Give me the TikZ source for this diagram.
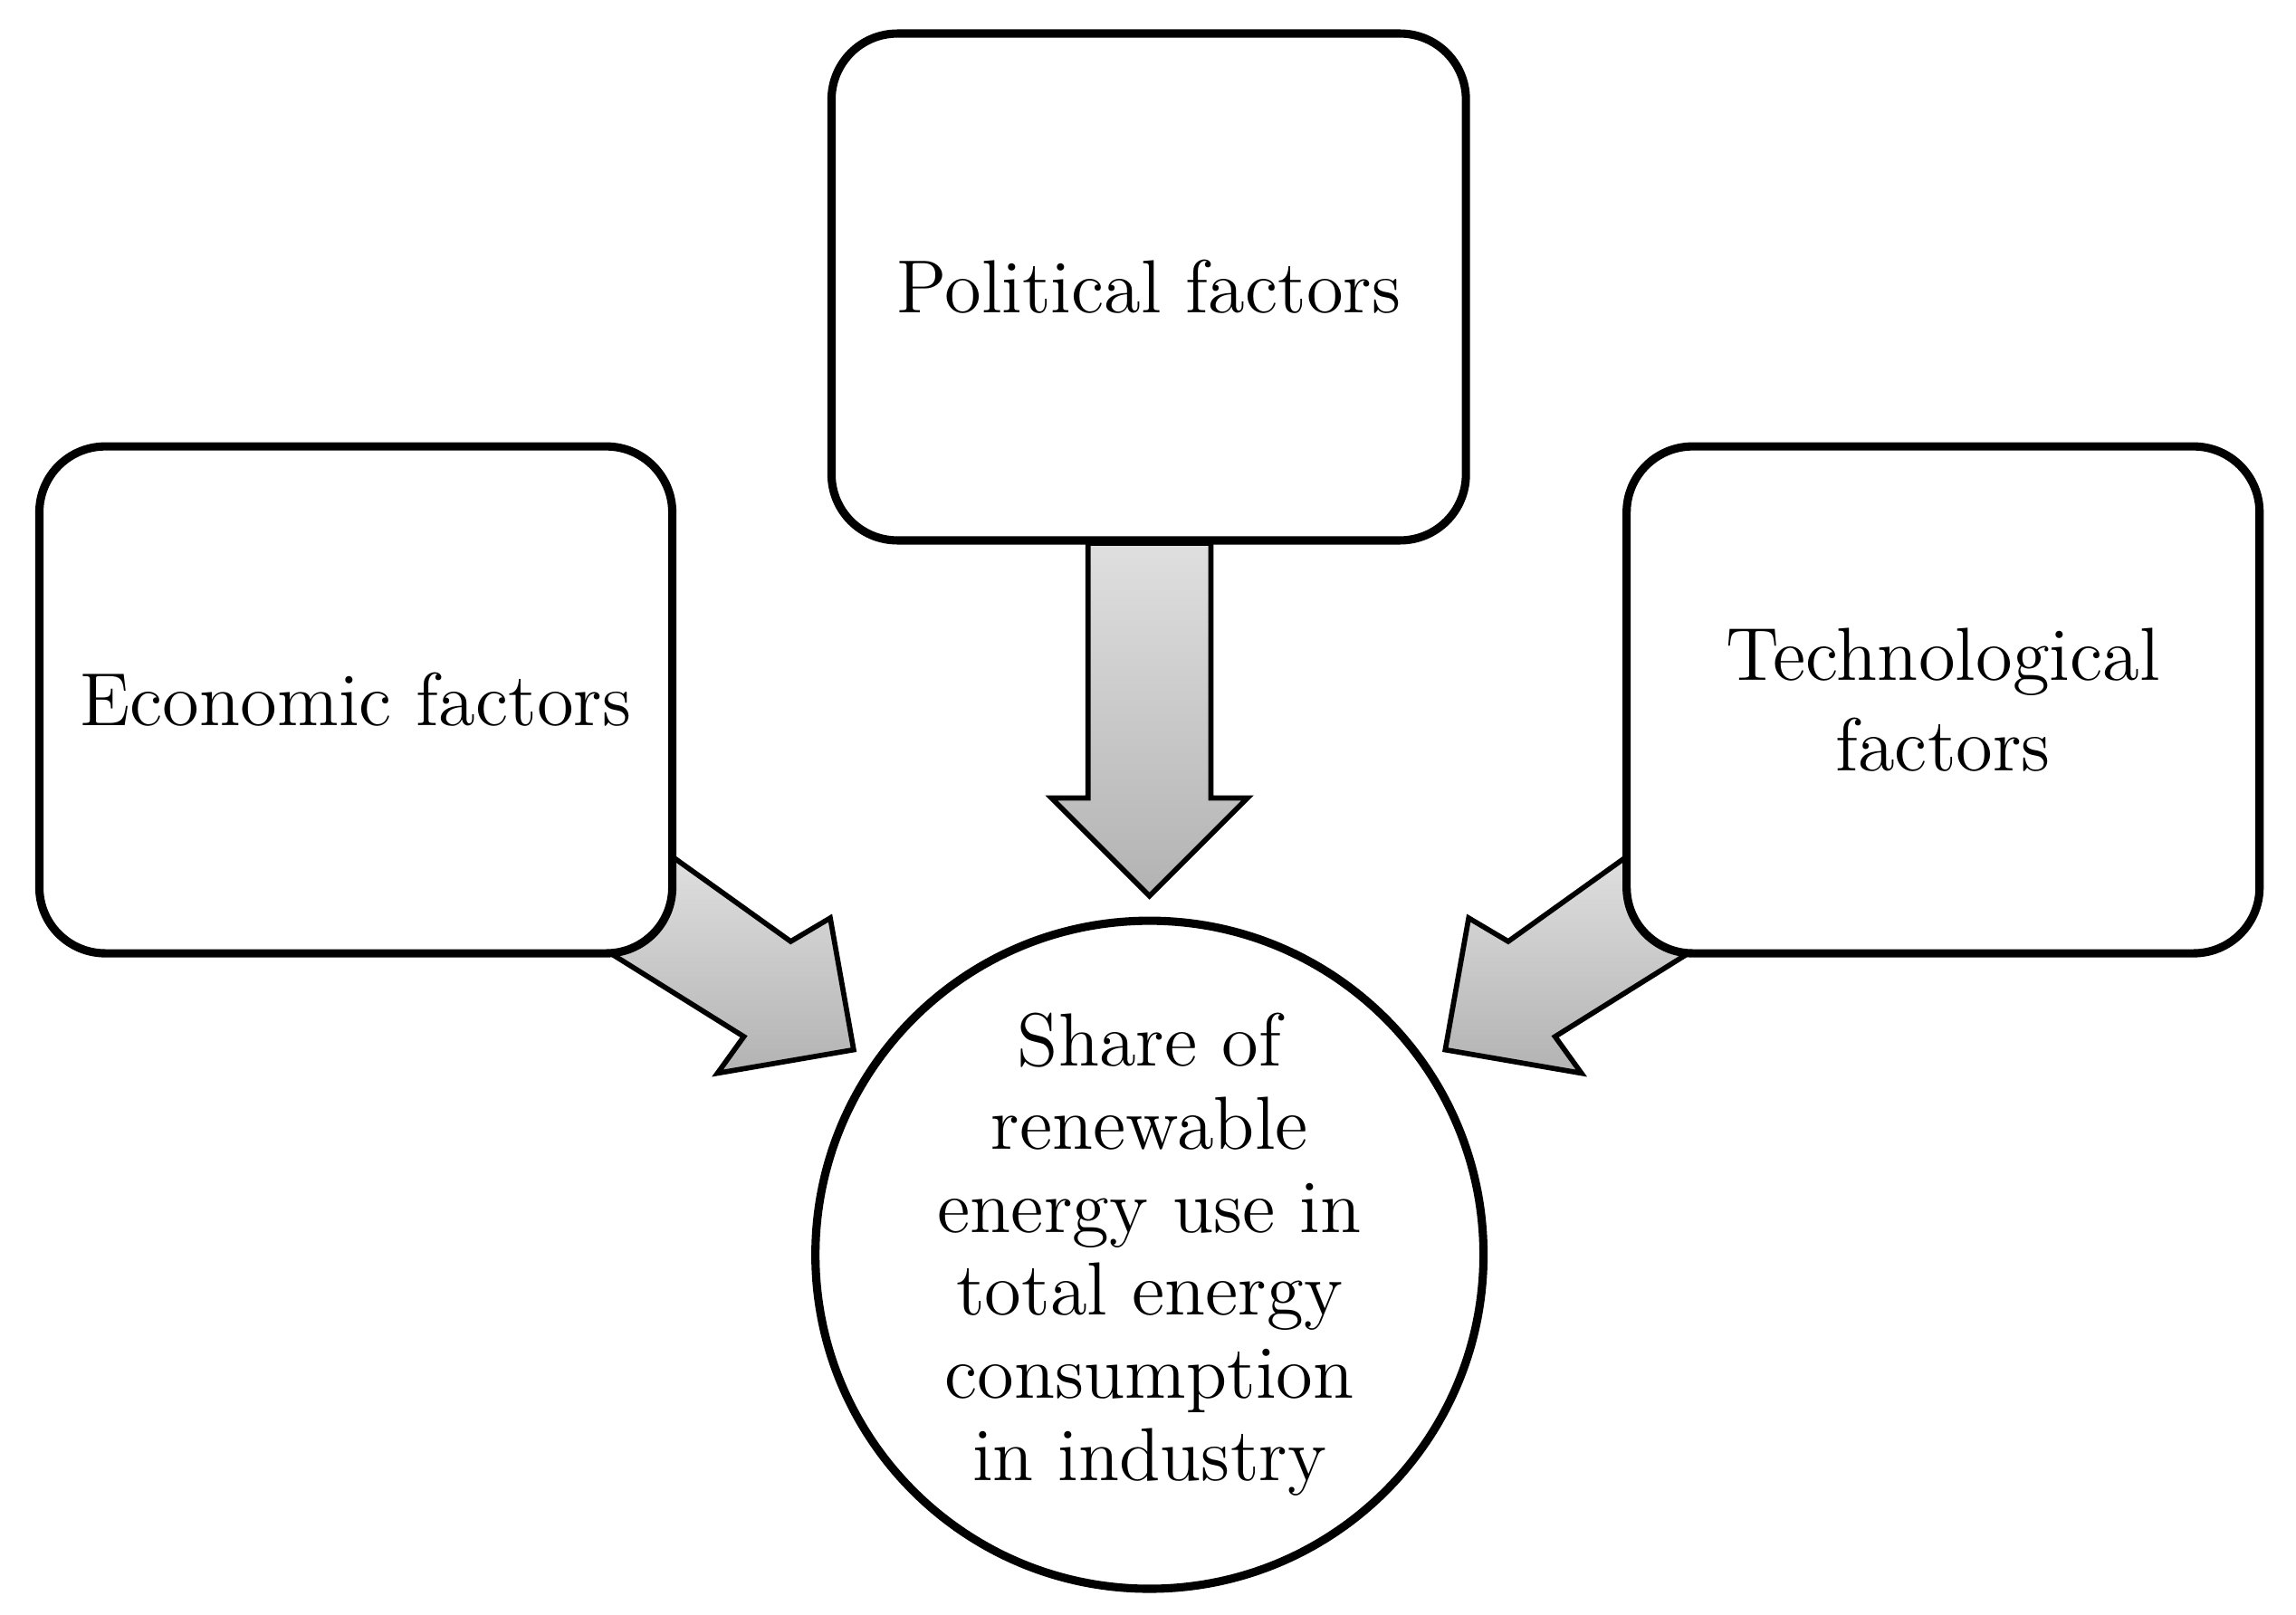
\documentclass[tikz,border=0pt]{standalone}
\begin{document}
\begin{tikzpicture}[x=0.01cm,y=-0.01cm,
  box/.style={draw,line width=1.6pt,rounded corners=0.45cm,fill=white,align=center,font=\fontsize{14.6}{17.5}\selectfont},
  fatarrow/.style={draw,line width=1pt,top color=gray!25,bottom color=gray!60,line join=miter}]
\useasboundingbox (0,0) rectangle (1568,1103);
% arrows
\draw[fatarrow] (743,371) -- (827,371) -- (827,545) -- (852,545) -- (785,612) -- (718,545) -- (743,545) -- cycle;
\draw[fatarrow] (459,585) -- (540,643) -- (567,627) -- (583,717) -- (490,733) -- (508,708) -- (420,653) -- cycle;
\draw[fatarrow] (1111,585) -- (1030,643) -- (1003,627) -- (987,717) -- (1080,733) -- (1062,708) -- (1150,653) -- cycle;
% boxes
\node[box,minimum width=4.33cm,minimum height=3.46cm] (pol) at (784.5,196) {Political factors};
\node[box,minimum width=4.32cm,minimum height=3.46cm] (eco) at (243,478) {Economic factors};
\node[box,minimum width=4.32cm,minimum height=3.46cm] (tec) at (1327,478) {Technological\\factors};
\node[draw,line width=1.6pt,circle,inner sep=0pt,fill=white,minimum size=4.56cm,align=center,font=\fontsize{14.6}{16.1}\selectfont] (sh) at (785,857) {Share of\\renewable\\energy use in\\total energy\\consumption\\in industry};
\end{tikzpicture}
\end{document}
